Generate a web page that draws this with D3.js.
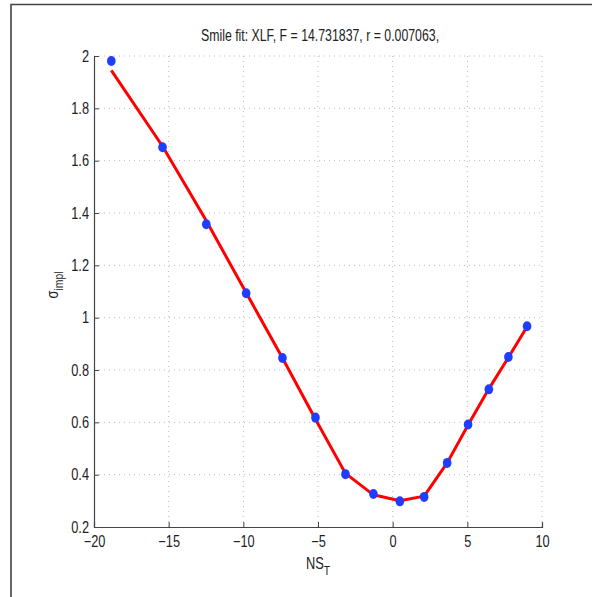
<!DOCTYPE html>
<html>
<head>
<meta charset="utf-8">
<script src="https://cdn.jsdelivr.net/npm/d3@7"></script>
<style>
  html, body { margin: 0; padding: 0; background: #fff; }
  svg { display: block; }
  text { font-family: "Liberation Sans", Arial, sans-serif; fill: #222; }
</style>
</head>
<body>
<svg id="chart" width="592" height="597"></svg>
<script>
// Implied volatility smile: observed points and fitted curve
const strikesNS = [-18.84, -15.41, -12.48, -9.81, -7.38, -5.17, -3.16, -1.29, 0.48, 2.11, 3.65, 5.05, 6.44, 7.75, 9.0];
const sigmaObserved = [1.981, 1.651, 1.357, 1.093, 0.846, 0.618, 0.402, 0.326, 0.298, 0.315, 0.445, 0.592, 0.726, 0.850, 0.967];
const sigmaFitted = [1.945, 1.655, 1.370, 1.095, 0.846, 0.612, 0.405, 0.323, 0.300, 0.318, 0.445, 0.590, 0.728, 0.848, 0.965];
const xTicks = [-20, -15, -10, -5, 0, 5, 10];
const yTicks = [0.2, 0.4, 0.6, 0.8, 1, 1.2, 1.4, 1.6, 1.8, 2];
const titleText = "Smile fit: XLF, F = 14.731837, r = 0.007063,";

const svg = d3.select("#chart");
const plotL = 94, plotR = 542, plotT = 56, plotB = 527;
const squeeze = 0.8;   // narrow Helvetica-like lettering
const fontPx = 16;

const x = d3.scaleLinear().domain([-20, 10]).range([plotL, plotR]);
const y = d3.scaleLinear().domain([0.2, 2]).range([plotB, plotT]);

// outer frame (top and left edges)
svg.append("path")
  .attr("d", `M11,597 V4.5 H592`)
  .attr("fill", "none")
  .attr("stroke", "#444")
  .attr("stroke-width", 1.6);

// dotted grid
const grid = svg.append("g");
grid.selectAll("line.gx").data(xTicks.slice(1)).join("line")
  .attr("x1", d => x(d)).attr("x2", d => x(d))
  .attr("y1", plotB).attr("y2", plotT)
  .attr("stroke", "#bbb").attr("stroke-width", 1)
  .attr("stroke-dasharray", "1,4");
grid.selectAll("line.gy").data(yTicks.slice(1)).join("line")
  .attr("y1", d => y(d)).attr("y2", d => y(d))
  .attr("x1", plotL).attr("x2", plotR)
  .attr("stroke", "#bbb").attr("stroke-width", 1)
  .attr("stroke-dasharray", "1,4");

// axes with inward ticks
const fmt = d => (d < 0 ? "\u2212" + Math.abs(d) : String(d));
const xAxis = d3.axisBottom(x).tickValues(xTicks).tickSize(-5).tickPadding(0).tickFormat(fmt);
const yAxis = d3.axisLeft(y).tickValues(yTicks).tickSize(-5).tickPadding(0).tickFormat(d => String(d));

const gx = svg.append("g").attr("transform", `translate(0,${plotB})`).call(xAxis);
const gy = svg.append("g").attr("transform", `translate(${plotL},0)`).call(yAxis);
[gx, gy].forEach(g => {
  g.select(".domain").attr("stroke", "#444").attr("stroke-width", 1.2);
  g.selectAll(".tick line").attr("stroke", "#444");
  g.selectAll(".tick text").attr("font-size", fontPx).attr("fill", "#222")
    .attr("font-family", "'Liberation Sans', Arial, sans-serif");
});
gx.selectAll(".tick text")
  .attr("y", 0).attr("dy", 0)
  .attr("transform", `translate(0,20) scale(${squeeze},1)`);
gy.selectAll(".tick text")
  .attr("x", 0)
  .attr("transform", `translate(-5,0) scale(${squeeze},1)`);

// fitted curve
const pts = strikesNS.map((k, i) => ({ k, obs: sigmaObserved[i], fit: sigmaFitted[i] }));
svg.append("path")
  .datum(pts)
  .attr("d", d3.line().x(d => x(d.k)).y(d => y(d.fit)))
  .attr("fill", "none")
  .attr("stroke", "#ff0000")
  .attr("stroke-width", 3)
  .attr("stroke-linejoin", "round");

// observed implied vols
svg.append("g").selectAll("ellipse").data(pts).join("ellipse")
  .attr("cx", d => x(d.k)).attr("cy", d => y(d.obs))
  .attr("rx", 4.3).attr("ry", 5)
  .attr("fill", "#1f3dff");

// title
svg.append("text")
  .attr("transform", `translate(${(plotL + plotR) / 2 + 2},41) scale(0.77,1)`)
  .attr("text-anchor", "middle")
  .attr("font-size", fontPx)
  .text(titleText);

// x label
const xl = svg.append("text")
  .attr("transform", `translate(318,569) scale(${squeeze},1)`)
  .attr("text-anchor", "middle")
  .attr("font-size", fontPx);
xl.append("tspan").text("NS");
xl.append("tspan").attr("font-size", 13).attr("dy", 6).text("T");

// y label
const yl = svg.append("text")
  .attr("transform", `translate(58,285) rotate(-90) scale(${squeeze},1)`)
  .attr("text-anchor", "middle")
  .attr("font-size", fontPx);
yl.append("tspan").text("\u03c3");
yl.append("tspan").attr("font-size", 13).attr("dy", 5).text("impl");
</script>
</body>
</html>
